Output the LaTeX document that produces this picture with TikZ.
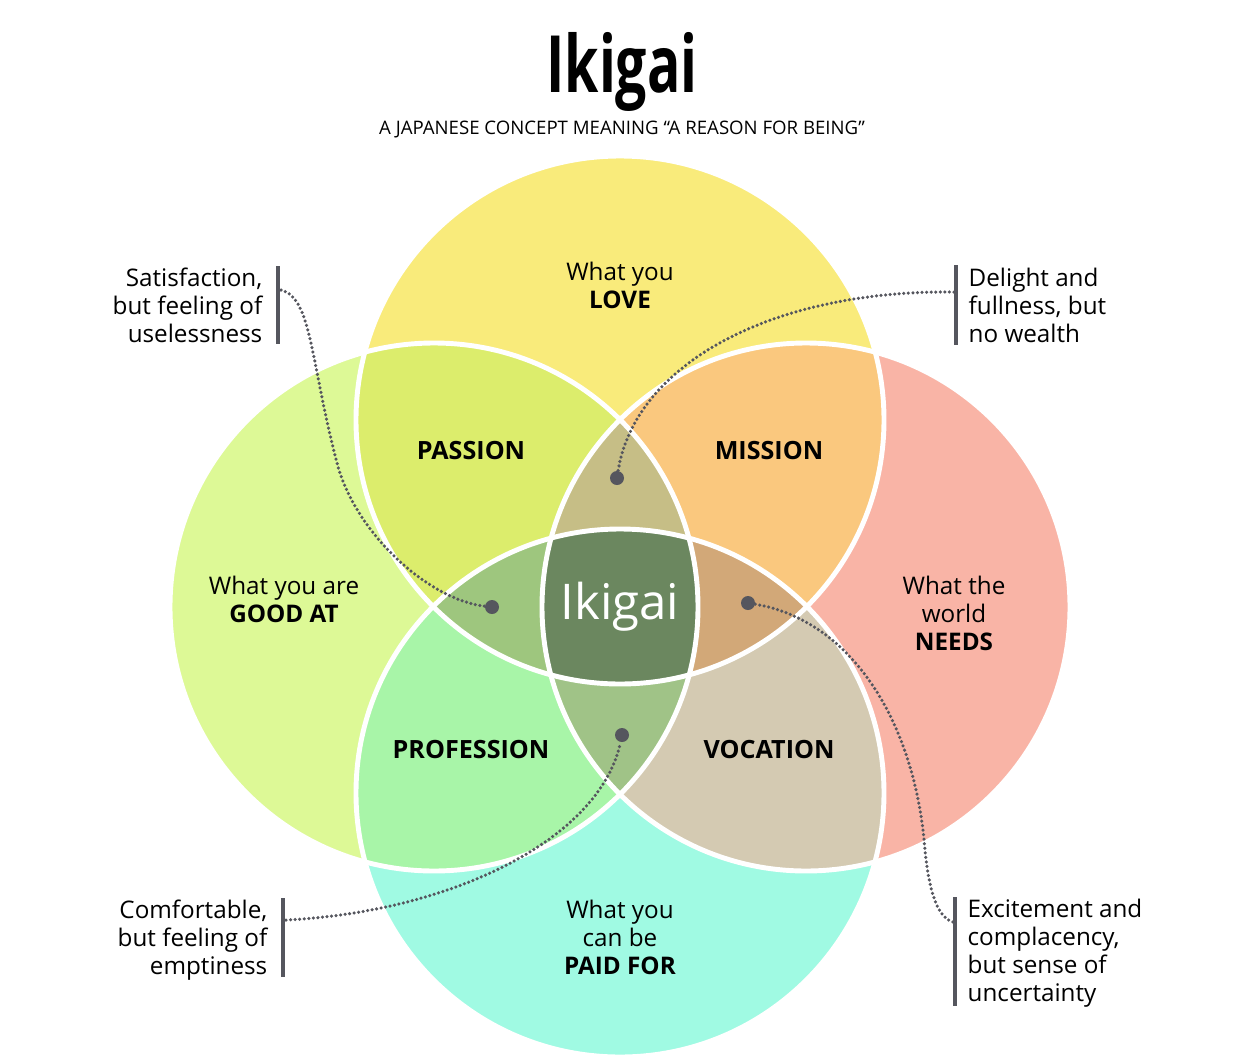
\documentclass[tikz,border=0pt]{standalone}
\usepackage{fontspec}
\setmainfont{Open Sans}
\usetikzlibrary{positioning}
\definecolor{lovefill}{HTML}{F9EB7B}
\definecolor{goodfill}{HTML}{DDF996}
\definecolor{needsfill}{HTML}{F9B4A6}
\definecolor{paidfill}{HTML}{A0FAE3}
\definecolor{passionfill}{HTML}{DCED6C}
\definecolor{missionfill}{HTML}{FAC87E}
\definecolor{professionfill}{HTML}{A8F5A8}
\definecolor{vocationfill}{HTML}{D4CAB2}
\definecolor{upperfill}{HTML}{C6BE86}
\definecolor{lowerfill}{HTML}{A0C387}
\definecolor{leftfill}{HTML}{9EC67E}
\definecolor{rightfill}{HTML}{D2A878}
\definecolor{ikigaifill}{HTML}{6B875F}
\definecolor{leadgray}{HTML}{55565E}
\newcommand{\ringrad}{264}
\tikzset{
  ring/.style={draw=white, line width=2.8pt},
  region/.style={font=\fontsize{14.3}{16}\selectfont\bfseries},
  circletext/.style={align=center, font=\fontsize{13.8}{15.9}\selectfont},
  note/.style={inner sep=0pt, font=\fontsize{13.8}{15.9}\selectfont},
  bar/.style={fill=leadgray, minimum width=.08cm, inner sep=0pt},
  leader/.style={draw=leadgray, line width=2pt, dash pattern=on 0pt off 2.6pt, line cap=round},
  dotmark/.style={circle, fill=leadgray, minimum size=.28cm, inner sep=0pt}
}
\begin{document}
\begin{tikzpicture}[x=.02cm,y=-.02cm]
\useasboundingbox (0,0) rectangle (1242,1059);

% Circle centres
\coordinate (love) at (620,420);
\coordinate (good) at (434,607);
\coordinate (needs) at (806,607);
\coordinate (paid) at (620,793);

% Single circles
\fill[lovefill] (love) circle (\ringrad);
\fill[goodfill] (good) circle (\ringrad);
\fill[needsfill] (needs) circle (\ringrad);
\fill[paidfill] (paid) circle (\ringrad);

% Pairs
\begin{scope}
  \clip (love) circle (\ringrad);
  \fill[passionfill] (good) circle (\ringrad);
  \fill[missionfill] (needs) circle (\ringrad);
\end{scope}
\begin{scope}
  \clip (paid) circle (\ringrad);
  \fill[professionfill] (good) circle (\ringrad);
  \fill[vocationfill] (needs) circle (\ringrad);
\end{scope}

% Triples
\begin{scope}
  \clip (good) circle (\ringrad);
  \clip (needs) circle (\ringrad);
  \fill[upperfill] (love) circle (\ringrad);
  \fill[lowerfill] (paid) circle (\ringrad);
\end{scope}
\begin{scope}
  \clip (love) circle (\ringrad);
  \clip (paid) circle (\ringrad);
  \fill[leftfill] (good) circle (\ringrad);
  \fill[rightfill] (needs) circle (\ringrad);
\end{scope}

% All four
\begin{scope}
  \clip (love) circle (\ringrad);
  \clip (paid) circle (\ringrad);
  \clip (good) circle (\ringrad);
  \fill[ikigaifill] (needs) circle (\ringrad);
\end{scope}

\foreach \c in {love,good,needs,paid}
  \draw[ring] (\c) circle (\ringrad);

% Heading
\node[anchor=base] (title) at (622,92)
  {\scalebox{.7}[1]{\fontsize{45}{45}\selectfont\bfseries Ikigai}};
\node[anchor=base, font=\fontsize{10.6}{12}\selectfont] (subtitle) at (622,134)
  {A JAPANESE CONCEPT MEANING “A REASON FOR BEING”};

% Circle labels
\node[circletext] (lovetext) at (620,285) {What you\\\textbf{LOVE}};
\node[circletext] (goodtext) at (284,599) {What you are\\\textbf{GOOD AT}};
\node[circletext] (needstext) at (954,613) {What the\\world\\\textbf{NEEDS}};
\node[circletext] (paidtext) at (620,937) {What you\\can be\\\textbf{PAID FOR}};

\node[region] (passion) at (471,451) {PASSION};
\node[region] (mission) at (769,451) {MISSION};
\node[region] (profession) at (471,750) {PROFESSION};
\node[region] (vocation) at (769,750) {VOCATION};

\node[text=white, font=\fontsize{28}{30}\selectfont] (ikigai) at (620,607) {Ikigai};

% Callouts
\node[bar, minimum height=1.56cm] (barA) at (278,305) {};
\node[note, left=.26cm of barA, align=right] (noteA) {Satisfaction,\\but feeling of\\uselessness};
\node[bar, minimum height=1.60cm] (barB) at (956,305) {};
\node[note, right=.2cm of barB, align=left] (noteB) {Delight and\\fullness, but\\no wealth};
\node[bar, minimum height=1.58cm] (barC) at (283,937) {};
\node[note, left=.26cm of barC, align=right, yshift=-.06cm] (noteC) {Comfortable,\\but feeling of\\emptiness};
\node[bar, minimum height=2.18cm] (barD) at (955,951) {};
\node[note, right=.2cm of barD, align=left, yshift=-.04cm] (noteD) {Excitement and\\complacency,\\but sense of\\uncertainty};

\coordinate (tipA) at (281,290);
\coordinate (tipB) at (954,292);
\coordinate (tipC) at (286,920);
\coordinate (tipD) at (953,922);

\node[dotmark] (dotA) at (492,607) {};
\node[dotmark] (dotB) at (617,478) {};
\node[dotmark] (dotC) at (622,735) {};
\node[dotmark] (dotD) at (748,603) {};

\draw[leader] (tipA) .. controls (312,298) and (310,360) .. (337,463)
  .. controls (356,535) and (430,600) .. (dotA);
\draw[leader] (tipB) .. controls (770,290) and (635,365) .. (dotB);
\draw[leader] (tipC) .. controls (450,912) and (600,840) .. (dotC);
\draw[leader] (dotD) .. controls (850,620) and (915,720) .. (925,850)
  .. controls (930,900) and (940,918) .. (tipD);

\end{tikzpicture}
\end{document}
